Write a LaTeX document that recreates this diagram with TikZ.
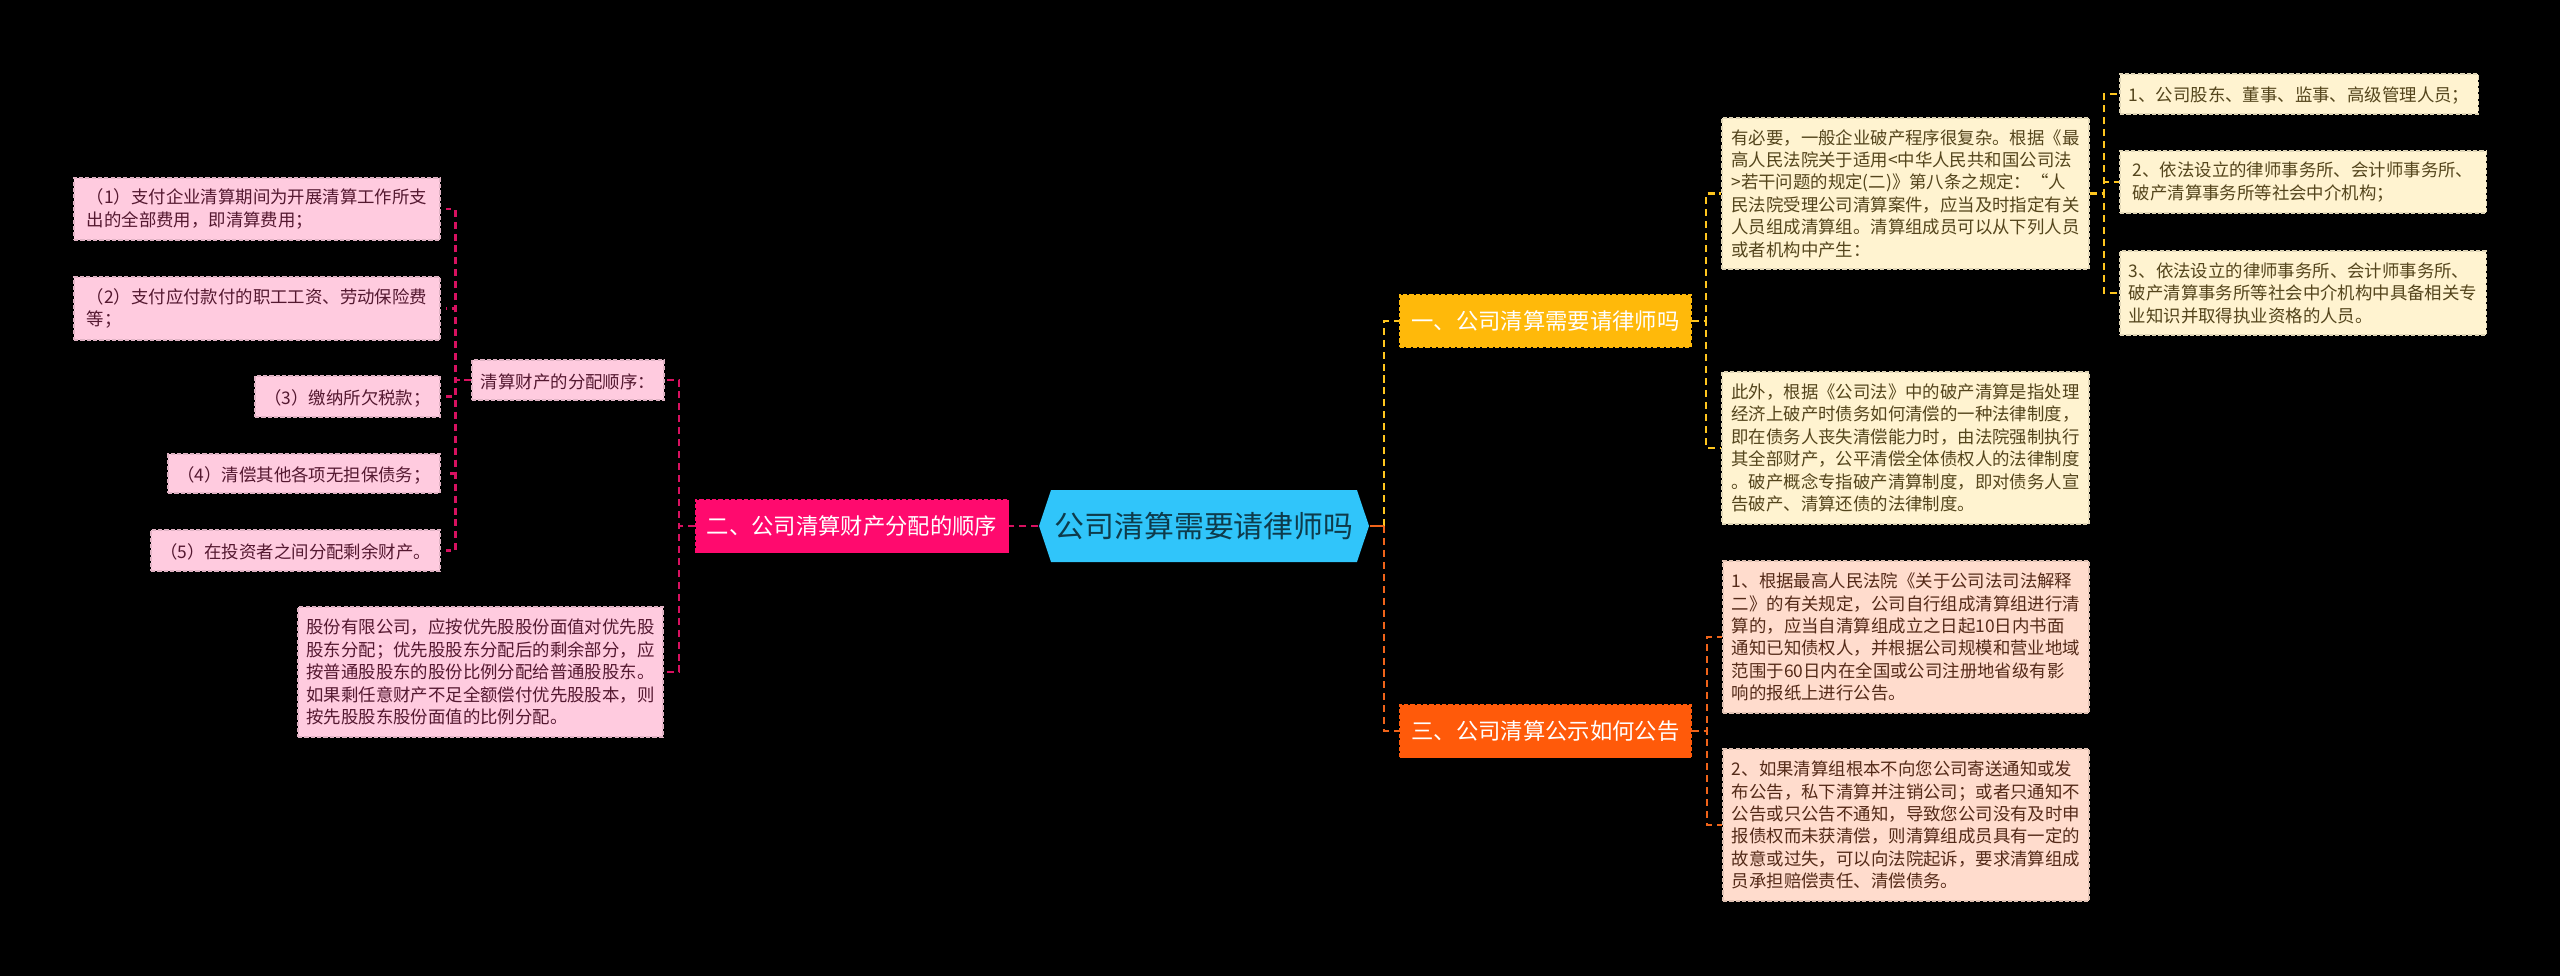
\documentclass[tikz,border=0pt]{standalone}
\usepackage{fontspec}
\setmainfont{Noto Sans CJK SC}
\usetikzlibrary{shapes.symbols}
\definecolor{cyanroot}{HTML}{30C5FA}
\definecolor{yellowbr}{HTML}{FFB90A}
\definecolor{pinkbr}{HTML}{FF0A6E}
\definecolor{orangebr}{HTML}{FF5A0A}
\definecolor{yellowleaf}{HTML}{FFF3D0}
\definecolor{pinkleaf}{HTML}{FFCBDF}
\definecolor{orangeleaf}{HTML}{FFDCCD}
\definecolor{yellowtext}{HTML}{54451C}
\definecolor{pinktext}{HTML}{541830}
\definecolor{orangetext}{HTML}{542A18}
\definecolor{yellowline}{HTML}{FFC61E}
\definecolor{pinkline}{HTML}{D81160}
\definecolor{orangeline}{HTML}{F0641A}
\tikzset{
  branchbox/.style={draw=#1, fill=#1, dashed, dash pattern=on 1.2pt off 0.6pt, line width=0.3pt, text=white, inner sep=0pt, font=\fontsize{6.35}{8}\selectfont},
  leafbox/.style={fill=#1, dashed, dash pattern=on 1.2pt off 0.6pt, line width=0.3pt, inner sep=0pt, align=left, font=\fontsize{4.95}{6.37}\selectfont, execute at begin node={\rule{0pt}{5.2pt}}},
  yleaf/.style={leafbox=yellowleaf, draw=yellowleaf!88!black, text=yellowtext},
  pleaf/.style={leafbox=pinkleaf, draw=pinkleaf!88!black, text=pinktext},
  oleaf/.style={leafbox=orangeleaf, draw=orangeleaf!88!black, text=orangetext},
  sized/.style 2 args={minimum width=#1*0.01cm, minimum height=#2*0.01cm},
  conline/.style={draw=#1, line width=0.6pt, dash pattern=on 2pt off 1.4pt},
}
\begin{document}
\begin{tikzpicture}[x=0.01cm, y=-0.01cm]
    \fill[black] (0,0) rectangle (2560,976);
    \useasboundingbox (0,0) rectangle (2560,976);

    % Nodo centrale
    \node[signal, signal to=east and west, signal pointer angle=143, fill=cyanroot, text=cyanroot!30!black, inner sep=0pt, sized={330}{72}, font=\fontsize{8.5}{10}\selectfont] (root) at (1204,526) {公司清算需要请律师吗};

    % Rami
    \node[branchbox=yellowbr, sized={291}{52}] (br1) at (1545.5,321) {一、公司清算需要请律师吗};
    \node[branchbox=pinkbr, sized={313}{53}] (br2) at (852,526) {二、公司清算财产分配的顺序};
    \node[branchbox=orangebr, sized={291}{53}] (br3) at (1545.5,731) {三、公司清算公示如何公告};

    % Ramo uno
    \node[yleaf, sized={367}{151}] (lawa) at (1905.5,193.5) {有必要，一般企业破产程序很复杂。根据《最\\高人民法院关于适用<中华人民共和国公司法\\>若干问题的规定(二)》第八条之规定：“人\\民法院受理公司清算案件，应当及时指定有关\\人员组成清算组。清算组成员可以从下列人员\\或者机构中产生：};
    \node[yleaf, sized={367}{152}] (lawb) at (1905.5,448) {此外，根据《公司法》中的破产清算是指处理\\经济上破产时债务如何清偿的一种法律制度，\\即在债务人丧失清偿能力时，由法院强制执行\\其全部财产，公平清偿全体债权人的法律制度\\。破产概念专指破产清算制度，即对债务人宣\\告破产、清算还债的法律制度。};
    \node[yleaf, sized={358}{40}] (mema) at (2299,94) {1、公司股东、董事、监事、高级管理人员；};
    \node[yleaf, sized={366}{62}] (memb) at (2303,182) {2、依法设立的律师事务所、会计师事务所、\\破产清算事务所等社会中介机构；};
    \node[yleaf, sized={366}{84}] (memc) at (2303,293) {3、依法设立的律师事务所、会计师事务所、\\破产清算事务所等社会中介机构中具备相关专\\业知识并取得执业资格的人员。};

    % Ramo due
    \node[pleaf, sized={192}{40}] (order) at (568,380) {清算财产的分配顺序：};
    \node[pleaf, sized={365}{130}] (share) at (480.5,672) {股份有限公司，应按优先股股份面值对优先股\\股东分配；优先股股东分配后的剩余部分，应\\按普通股股东的股份比例分配给普通股股东。\\如果剩任意财产不足全额偿付优先股股本，则\\按先股股东股份面值的比例分配。};
    \node[pleaf, sized={366}{62}] (paya) at (257,209) {（1）支付企业清算期间为开展清算工作所支\\出的全部费用，即清算费用；};
    \node[pleaf, sized={366}{63}] (payb) at (257,308.5) {（2）支付应付款付的职工工资、劳动保险费\\等；};
    \node[pleaf, sized={185}{41}] (payc) at (347.5,396.5) {（3）缴纳所欠税款；};
    \node[pleaf, sized={272}{39}] (payd) at (304,473.5) {（4）清偿其他各项无担保债务；};
    \node[pleaf, sized={289}{41}] (paye) at (295.5,550.5) {（5）在投资者之间分配剩余财产。};

    % Ramo tre
    \node[oleaf, sized={366}{152}] (nota) at (1906,637) {1、根据最高人民法院《关于公司法司法解释\\二》的有关规定，公司自行组成清算组进行清\\算的，应当自清算组成立之日起10日内书面\\通知已知债权人，并根据公司规模和营业地域\\范围于60日内在全国或公司注册地省级有影\\响的报纸上进行公告。};
    \node[oleaf, sized={366}{152}] (notb) at (1906,825) {2、如果清算组根本不向您公司寄送通知或发\\布公告，私下清算并注销公司；或者只通知不\\公告或只公告不通知，导致您公司没有及时申\\报债权而未获清偿，则清算组成员具有一定的\\故意或过失，可以向法院起诉，要求清算组成\\员承担赔偿责任、清偿债务。};

    % Punti di snodo
    \coordinate (trunk) at (1384,526);
    \coordinate (forkone) at (1706,321);
    \coordinate (forklaw) at (2104,193.5);
    \coordinate (forktwo) at (679,526);
    \coordinate (forkpay) at (455.5,380);
    \coordinate (forkthree) at (1707,731);

    % Collegamenti
    \draw[conline=yellowline] (trunk) |- (br1.west);
    \draw[conline=orangeline] (trunk) |- (br3.west);
    \draw[conline=orangeline, dash pattern=on 20pt off 0pt] (root.east) -- (trunk);
    \draw[conline=pinkline] (root.west) -- (br2.east);

    \draw[conline=yellowline] (br1.east) -- (forkone) |- (lawa.west);
    \draw[conline=yellowline] (br1.east) -- (forkone) |- (lawb.west);
    \draw[conline=yellowline] (lawa.east) -- (forklaw) |- (mema.west);
    \draw[conline=yellowline] (lawa.east) -- (forklaw) |- (memb.west);
    \draw[conline=yellowline] (lawa.east) -- (forklaw) |- (memc.west);

    \draw[conline=pinkline] (br2.west) -- (forktwo) |- (order.east);
    \draw[conline=pinkline] (br2.west) -- (forktwo) |- (share.east);
    \draw[conline=pinkline, shorten >=1.6pt] (order.west) -- (forkpay) |- (paya.east);
    \draw[conline=pinkline, shorten >=1.6pt] (order.west) -- (forkpay) |- (payb.east);
    \draw[conline=pinkline, shorten >=1.6pt] (order.west) -- (forkpay) |- (payc.east);
    \draw[conline=pinkline, shorten >=1.6pt] (order.west) -- (forkpay) |- (payd.east);
    \draw[conline=pinkline, shorten >=1.6pt] (order.west) -- (forkpay) |- (paye.east);

    \draw[conline=orangeline] (br3.east) -- (forkthree) |- (nota.west);
    \draw[conline=orangeline] (br3.east) -- (forkthree) |- (notb.west);
\end{tikzpicture}
\end{document}
